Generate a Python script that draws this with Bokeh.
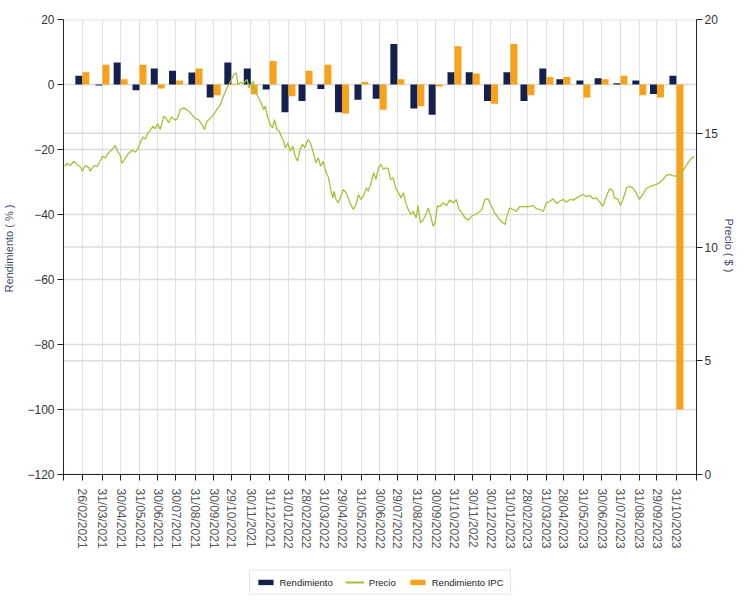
import math
import pandas as pd
from bokeh.plotting import figure
from bokeh.layouts import column
from bokeh.models import (Range1d, LinearAxis, FixedTicker, DatetimeTickFormatter,
                          Span, Legend, LegendItem, ColumnDataSource)
from bokeh.embed import file_html
from bokeh.resources import INLINE

# ---------------- data ----------------
months = ["26/02/2021", "31/03/2021", "30/04/2021", "31/05/2021", "30/06/2021", "30/07/2021",
          "31/08/2021", "30/09/2021", "29/10/2021", "30/11/2021", "31/12/2021", "31/01/2022",
          "28/02/2022", "31/03/2022", "29/04/2022", "31/05/2022", "30/06/2022", "29/07/2022",
          "31/08/2022", "30/09/2022", "31/10/2022", "30/11/2022", "30/12/2022", "31/01/2023",
          "28/02/2023", "31/03/2023", "28/04/2023", "31/05/2023", "30/06/2023", "31/07/2023",
          "31/08/2023", "29/09/2023", "31/10/2023"]

rendimiento = [2.7, -0.3, 6.8, -1.8, 4.9, 4.2, 3.7, -4.0, 6.8, 4.9, -1.5, -8.5, -5.1, -1.4,
               -8.5, -4.7, -4.4, 12.5, -7.4, -9.3, 3.8, 3.8, -5.1, 3.8, -5.1, 4.9, 1.6, 1.2,
               1.9, 0.4, 1.2, -2.9, 2.7]

rendimiento_ipc = [3.8, 6.1, 1.6, 6.1, -1.2, 1.2, 4.9, -3.3, 0.2, -3.0, 7.2, -3.6, 4.2, 6.1,
                   -8.9, 0.8, -7.8, 1.6, -6.7, -0.6, 11.8, 3.4, -5.9, 12.5, -3.3, 2.3, 2.3,
                   -4.0, 1.6, 2.7, -3.3, -4.0, -100.0]

price_start = "2021-01-26"
price_days = [2, 6, 11, 17, 22, 28, 31, 36, 42, 44, 50, 55, 60, 64, 69, 74, 80, 85, 89, 94,
              96, 102, 107, 113, 118, 122, 126, 131, 135, 138, 143, 147, 151, 155, 159, 165,
              169, 173, 178, 184, 188, 192, 198,
              200, 206, 211, 217, 222, 228, 232, 236, 241, 247, 252, 258, 263, 269, 274, 280,
              284, 287, 291, 296, 302, 305, 310, 312, 316, 321, 325, 329, 332, 336, 340, 344,
              347, 351, 355, 358, 362, 365, 369, 373, 377, 381, 385, 389, 393, 397, 402,
              406, 411, 415, 419, 423, 427, 432, 436, 440, 443, 445, 448, 452, 456, 460, 465,
              468, 472, 477, 481, 485, 489, 493, 498, 501, 505, 510, 514, 518, 522, 526, 530,
              534, 538, 542, 547, 551, 555, 559, 563, 567, 571, 575, 580, 583, 587, 592, 596,
              600, 604, 608,
              611, 615, 619, 624, 630, 635, 641, 646, 650, 655, 660, 666, 671, 677, 682, 688,
              693, 698, 704, 709, 715, 720, 726, 729, 734, 739, 745, 750, 756, 761, 767, 772,
              778, 783, 789, 794, 800, 805, 811,
              816, 822, 827, 833, 838, 844, 849, 854, 860, 865, 871, 876, 882, 887, 893, 898,
              903, 906, 912, 916, 920, 926, 931, 936, 942, 947, 953, 958, 964, 969, 975, 980,
              986, 991, 997, 1002, 1008, 1012, 1016, 1021, 1027, 1032, 1037]
price_values = [13.55, 13.67, 13.58, 13.77, 13.63, 13.52, 13.33, 13.58, 13.48, 13.33,
                13.58, 13.53, 13.77, 13.99, 13.92, 14.14, 14.29, 14.46, 14.21, 13.99,
                13.67, 13.92, 14.11, 14.25, 14.17, 14.29, 14.58, 14.84, 14.73, 14.99,
                15.13, 15.31, 15.20, 15.43, 15.16, 15.75, 15.64, 15.46, 15.72, 15.57,
                15.68, 16.04, 16.12,
                16.07, 15.97, 15.82, 15.64, 15.60, 15.38, 15.16, 15.53, 15.64, 15.82,
                16.04, 16.26, 16.63, 17.00, 17.24, 17.58, 17.66, 17.14, 17.24, 17.19,
                17.36, 17.00, 17.19, 17.29, 16.78, 16.56, 16.34, 16.04, 16.19, 15.68,
                15.38, 15.24, 15.60, 15.16, 15.09, 14.87, 14.65, 14.36, 14.58, 14.21,
                14.43, 13.99, 13.77, 14.29, 14.51, 14.36, 14.73,
                14.58, 14.14, 13.70, 13.92, 13.55, 13.77, 13.26, 13.04, 12.45, 12.16,
                12.45, 12.09, 11.94, 12.23, 12.53, 12.38, 12.16, 11.87, 11.65, 11.87,
                12.31, 12.09, 12.23, 12.60, 12.45, 12.75, 13.26, 12.97, 13.48, 13.63,
                13.41, 13.48, 13.44, 12.97, 13.04, 12.53, 12.38, 12.16, 12.38, 11.94,
                11.65, 11.43, 11.57, 11.28, 11.82, 11.06, 11.21, 11.43, 11.72, 11.35,
                10.91,
                11.06, 11.82, 11.77, 11.94, 11.82, 12.06, 11.94, 12.09, 11.68, 11.50,
                11.28, 11.18, 11.35, 11.43, 11.50, 11.65, 12.09, 12.12, 11.79, 11.50,
                11.28, 11.13, 10.99, 11.35, 11.72, 11.65, 11.57, 11.77, 11.79, 11.77,
                11.79, 11.82, 11.68, 11.65, 11.57, 11.94, 12.01, 12.12, 11.91,
                12.01, 12.09, 11.97, 12.09, 12.06, 12.16, 12.23, 12.31, 12.21, 12.26,
                12.12, 12.16, 11.97, 11.79, 12.23, 12.56, 12.50, 12.16, 12.09, 11.82,
                12.09, 12.60, 12.67, 12.60, 12.38, 12.09, 12.31, 12.56, 12.65, 12.70,
                12.75, 12.82, 12.97, 13.14, 13.19, 13.14, 13.11, 13.00, 13.26, 13.44,
                13.70, 13.88, 13.99]

left_ticks = [-120, -100, -80, -60, -40, -20, 0, 20]
right_ticks = [0, 5, 10, 15, 20]
series_names = ["Rendimiento", "Precio", "Rendimiento IPC"]

# ---------------- styling ----------------
NAVY = "#14214f"
ORANGE = "#f8a11b"
GREEN = "#a6c03a"
GRID = "#dcdcdc"
FONT = "Liberation Sans"

dates = pd.to_datetime(months, format="%d/%m/%Y")
x_start = pd.Timestamp("2021-01-26")
x_end = pd.Timestamp("2023-12-03")
day = pd.Timedelta(days=1)
bar_w = 11.5 * day

src_bars = ColumnDataSource(dict(
    x_r=dates - bar_w / 2, x_i=dates + bar_w / 2,
    r=rendimiento, ipc=rendimiento_ipc))
price_dates = pd.Timestamp(price_start) + pd.to_timedelta(price_days, unit="D")
src_price = ColumnDataSource(dict(x=price_dates, y=price_values))

p = figure(width=737, height=565, x_axis_type="datetime",
           x_range=Range1d(x_start, x_end), y_range=Range1d(-120, 20),
           output_backend="svg", toolbar_location=None,
           min_border_left=55, min_border_right=40, min_border_top=19,
           min_border_bottom=91)
p.outline_line_color = None
p.background_fill_color = "white"
p.border_fill_color = "white"

p.extra_y_ranges = {"price": Range1d(0, 20)}

# horizontal grid lines of the right (price) axis
for t in right_ticks:
    p.add_layout(Span(location=t, dimension="width", y_range_name="price",
                      line_color=GRID, line_width=1.5, level="underlay"))

# bars (left axis)
p.vbar(x="x_r", top="r", bottom=0, width=bar_w, source=src_bars,
       fill_color=NAVY, line_color=None)
p.vbar(x="x_i", top="ipc", bottom=0, width=bar_w, source=src_bars,
       fill_color=ORANGE, line_color=None)
# price line (right axis)
p.line(x="x", y="y", source=src_price, y_range_name="price",
       line_color=GREEN, line_width=1.3)

# x axis
xa = p.xaxis[0]
xa.ticker = FixedTicker(ticks=[d.value // 10**6 for d in dates],
                        minor_ticks=[x_start.value // 10**6, x_end.value // 10**6])
fmt = "%d/%m/%Y"
xa.formatter = DatetimeTickFormatter(milliseconds=fmt, seconds=fmt, minsec=fmt, minutes=fmt,
                                     hourmin=fmt, hours=fmt, days=fmt, months=fmt, years=fmt)
xa.major_label_orientation = -math.pi / 2
xa.major_label_text_font = FONT
xa.major_label_text_font_size = "12px"
xa.major_label_text_color = "#555555"
xa.major_label_standoff = 8
xa.axis_line_color = "#222222"
xa.major_tick_line_color = "#222222"
xa.minor_tick_line_color = "#222222"
xa.major_tick_out = 6
xa.major_tick_in = 0
xa.minor_tick_out = 6
xa.minor_tick_in = 0

# left axis
ya = p.yaxis[0]
ya.ticker = FixedTicker(ticks=left_ticks)
ya.axis_label = "Rendimiento  ( % )"
ya.axis_label_text_font = FONT
ya.axis_label_text_font_style = "normal"
ya.axis_label_text_font_size = "11px"
ya.axis_label_text_color = "#3d4a6b"
ya.axis_label_standoff = 9
ya.major_label_text_font = FONT
ya.major_label_text_font_size = "12px"
ya.major_label_text_color = "#333333"
ya.major_label_standoff = 3
ya.axis_line_color = "#222222"
ya.major_tick_line_color = "#222222"
ya.major_tick_out = 6
ya.major_tick_in = 0
ya.minor_tick_line_color = None

# right axis
ra = LinearAxis(y_range_name="price", ticker=FixedTicker(ticks=right_ticks))
ra.axis_label = "Precio  ( $ )"
ra.axis_label_text_font = FONT
ra.axis_label_text_font_style = "normal"
ra.axis_label_text_font_size = "11px"
ra.axis_label_text_color = "#3d4a6b"
ra.axis_label_standoff = 2
ra.major_label_text_font = FONT
ra.major_label_text_font_size = "12px"
ra.major_label_text_color = "#333333"
ra.major_label_standoff = 2
ra.axis_line_color = "#222222"
ra.major_tick_line_color = "#222222"
ra.major_tick_out = 6
ra.major_tick_in = 0
ra.minor_tick_line_color = None
p.add_layout(ra, "right")

# grids
p.xgrid.grid_line_color = "#e2e2e2"
p.xgrid.grid_line_width = 1
p.ygrid.grid_line_color = GRID
p.ygrid.grid_line_width = 1.5

# ---------------- legend strip (own small figure below the chart) ----------------
lg = figure(width=737, height=34, x_range=Range1d(0, 1), y_range=Range1d(0, 1),
            output_backend="svg", toolbar_location=None,
            x_axis_location=None, y_axis_location=None, min_border=0)
lg.outline_line_color = None
lg.grid.visible = False
# keys are drawn from sources that sit outside the strip's visible range
off = ColumnDataSource(dict(x=[-5, -4], y=[-5, -5], b=[-6, -6]))
k1 = lg.vbar(x="x", top="y", bottom="b", width=0.1, source=off,
             fill_color=NAVY, line_color=None)
k2 = lg.line(x="x", y="y", source=off, line_color=GREEN, line_width=2)
k3 = lg.vbar(x="x", top="y", bottom="b", width=0.1, source=off,
             fill_color=ORANGE, line_color=None)
legend = Legend(items=[LegendItem(label=series_names[0], renderers=[k1]),
                       LegendItem(label=series_names[1], renderers=[k2]),
                       LegendItem(label=series_names[2], renderers=[k3])],
                orientation="horizontal", location="center",
                label_text_font=FONT, label_text_font_size="9.5px",
                label_text_color="#222222",
                glyph_width=19, glyph_height=7, label_standoff=5, spacing=12,
                padding=6, margin=0,
                border_line_color="#cccccc", border_line_width=1,
                background_fill_color="white")
lg.add_layout(legend, "center")

layout = column(p, lg, spacing=0)
open("out.html", "w").write(file_html(layout, INLINE))
